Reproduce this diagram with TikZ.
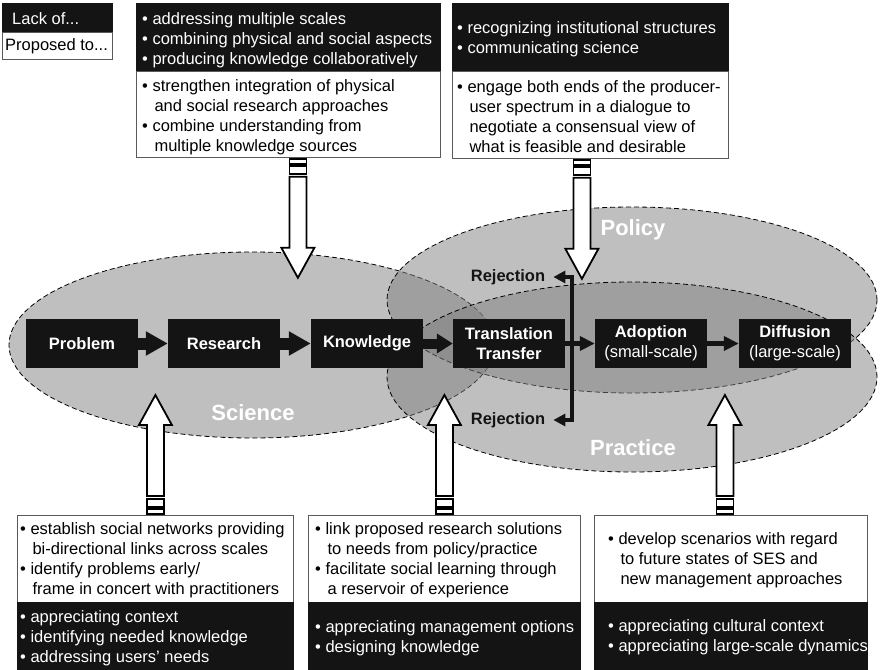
\documentclass[tikz,border=0pt]{standalone}
\usepackage{fontspec}
\setmainfont{Liberation Sans}
\usetikzlibrary{arrows.meta,shapes.geometric,calc}
\definecolor{boxblack}{RGB}{20,20,20}
\definecolor{edgegray}{RGB}{90,90,90}
% bullet line and indented continuation line
\newcommand\bul[1]{\mbox{\textbullet\ #1}}
\newcommand\cnt[1]{\mbox{\phantom{\textbullet\ }\hspace{2pt}#1}}

\tikzset{
  region/.style={ellipse, draw=black, fill=black!50, fill opacity=0.5,
    inner sep=0pt, line width=0.8pt, dash pattern=on 5pt off 3pt},
  regionlabel/.style={text=white, inner sep=0pt,
    font=\fontsize{22}{26}\selectfont\bfseries},
  darkbox/.style={fill=boxblack, draw=boxblack, inner sep=0pt, anchor=north west},
  lightbox/.style={fill=white, draw=edgegray, line width=0.8pt, inner sep=0pt, anchor=north west},
  bodytext/.style={anchor=west, inner sep=0pt, align=left,
    font=\fontsize{16.5}{20}\selectfont},
  procbox/.style={fill=boxblack, text=white, minimum width=112pt, minimum height=49pt,
    inner sep=0pt, align=center, font=\fontsize{16.5}{20}\selectfont\bfseries},
  fatarrow/.style={draw=boxblack, line width=12pt, -{Triangle[length=22pt,width=23pt]}},
  midarrow/.style={draw=boxblack, line width=10pt, -{Triangle[length=16pt,width=19pt]}},
  thinarrow/.style={draw=boxblack, line width=4.5pt, -{Triangle[length=15pt,width=14pt]}},
  rejline/.style={draw=boxblack, line width=4pt, line join=miter,
    {Triangle[length=12pt,width=12pt]}-{Triangle[length=12pt,width=12pt]}},
  rejtext/.style={text=boxblack, inner sep=0pt, font=\fontsize{16.5}{20}\selectfont\bfseries},
  hollow/.style={draw=black, fill=white, line width=1.8pt, line join=miter},
  pics/hollowarrow/.style={code={
    \draw[hollow] (-8.5,#1*1) rectangle (8.5,#1*6);
    \draw[hollow] (-8.5,#1*8) rectangle (8.5,#1*16);
    \draw[hollow] (-8.5,#1*19) -- (-8.5,#1*90) -- (-16.5,#1*90) -- (0,#1*120)
      -- (16.5,#1*90) -- (8.5,#1*90) -- (8.5,#1*19) -- cycle;
  }}
}

\begin{document}
\begin{tikzpicture}[x=1pt,y=-1pt]
\useasboundingbox (0,0) rectangle (880,669);

% overlapping domains
\node[region, minimum width=486pt, minimum height=186pt] (sci)  at (252,345) {};
\node[region, minimum width=490pt, minimum height=186pt] (pol)  at (632,300) {};
\node[region, minimum width=490pt, minimum height=190pt] (prac) at (632,377) {};
\node[regionlabel] (scil)  at (253,413) {Science};
\node[regionlabel] (poll)  at (633,230) {Policy};
\node[regionlabel] (pracl) at (633,448) {Practice};

% process chain
\node[procbox] (prob)  at (82,343.5)  {Problem};
\node[procbox] (res)   at (224,343.5) {Research};
\node[procbox] (know)  at (367,343.5) {Knowledge};
\node[procbox] (trans) at (509,343.5) {Translation\\Transfer};
\node[procbox] (adopt) at (651,343.5) {Adoption\\\mdseries(small-scale)};
\node[procbox] (diff)  at (795,343.5) {Diffusion\\\mdseries(large-scale)};

\draw[fatarrow] (prob) -- (res);
\draw[fatarrow] (res) -- (know);
\draw[midarrow] (know) -- (trans);
\draw[thinarrow] (trans) -- (adopt);
\draw[thinarrow] (adopt) -- (diff);

% rejection branches
\node[rejtext] (rejA) at (508,277) {Rejection};
\node[rejtext] (rejB) at (508,420) {Rejection};
\coordinate (rtop) at (572,277);
\coordinate (rbot) at (572,420);
\draw[rejline] ([xshift=8pt]rejA.east) -- (rtop) -- (rbot) -- ([xshift=8pt]rejB.east);

% legend
\node[darkbox, minimum width=110pt, minimum height=29pt] (lack) at (2,3) {};
\node[lightbox, minimum width=110pt, minimum height=27pt] (prop) at (2,32) {};
\node[bodytext, text=white] (lackt) at (12,19) {Lack of...};
\node[bodytext] (propt) at (5,46) {Proposed to...};

% top boxes
\node[darkbox, minimum width=304pt, minimum height=68pt] (tcb) at (136,3) {};
\node[lightbox, minimum width=304pt, minimum height=86pt] (tcw) at (136,71) {};
\node[bodytext, text=white] (tcbt) at (142,40) {\bul{addressing multiple scales}\\
  \bul{combining physical and social aspects}\\
  \bul{producing knowledge collaboratively}};
\node[bodytext] (tcwt) at (142,117) {\bul{strengthen integration of physical}\\
  \cnt{and social research approaches}\\
  \bul{combine understanding from}\\
  \cnt{multiple knowledge sources}};

\node[darkbox, minimum width=276pt, minimum height=68pt] (trb) at (452,3) {};
\node[lightbox, minimum width=276pt, minimum height=87pt] (trw) at (452,71) {};
\node[bodytext, text=white] (trbt) at (457,39) {\bul{recognizing institutional structures}\\
  \bul{communicating science}};
\node[bodytext] (trwt) at (457,117) {\bul{engage both ends of the producer-}\\
  \cnt{user spectrum in a dialogue to}\\
  \cnt{negotiate a consensual view of}\\
  \cnt{what is feasible and desirable}};

% bottom boxes
\node[lightbox, minimum width=276pt, minimum height=87pt] (blw) at (17,515) {};
\node[darkbox, minimum width=276pt, minimum height=67pt] (blb) at (17,602) {};
\node[bodytext] (blwt) at (20,560) {\bul{establish social networks providing}\\
  \cnt{bi-directional links across scales}\\
  \bul{identify problems early/}\\
  \cnt{frame in concert with practitioners}};
\node[bodytext, text=white] (blbt) at (20,638) {\bul{appreciating context}\\
  \bul{identifying needed knowledge}\\
  \bul{addressing users’ needs}};

\node[lightbox, minimum width=272pt, minimum height=87pt] (bmw) at (308,515) {};
\node[darkbox, minimum width=272pt, minimum height=67pt] (bmb) at (308,602) {};
\node[bodytext] (bmwt) at (315,560) {\bul{link proposed research solutions}\\
  \cnt{to needs from policy/practice}\\
  \bul{facilitate social learning through}\\
  \cnt{a reservoir of experience}};
\node[bodytext, text=white] (bmbt) at (315,638) {\bul{appreciating management options}\\
  \bul{designing knowledge}};

\node[lightbox, minimum width=273pt, minimum height=87pt] (brw) at (594,515) {};
\node[darkbox, minimum width=273pt, minimum height=67pt] (brb) at (594,602) {};
\node[bodytext] (brwt) at (608,560) {\bul{develop scenarios with regard}\\
  \cnt{to future states of SES and}\\
  \cnt{new management approaches}};
\node[bodytext, text=white] (brbt) at (608,637) {\bul{appreciating cultural context}\\
  \bul{appreciating large-scale dynamics}};

% hollow arrows from the boxes into the domains
\pic at ([xshift=9.5pt]tcw.south) {hollowarrow=1};
\pic at ([xshift=-8.5pt]trw.south) {hollowarrow=1};
\pic at (blw.north) {hollowarrow=-1};
\pic at (bmw.north) {hollowarrow=-1};
\pic at ([xshift=-6pt]brw.north) {hollowarrow=-1};
\end{tikzpicture}
\end{document}
